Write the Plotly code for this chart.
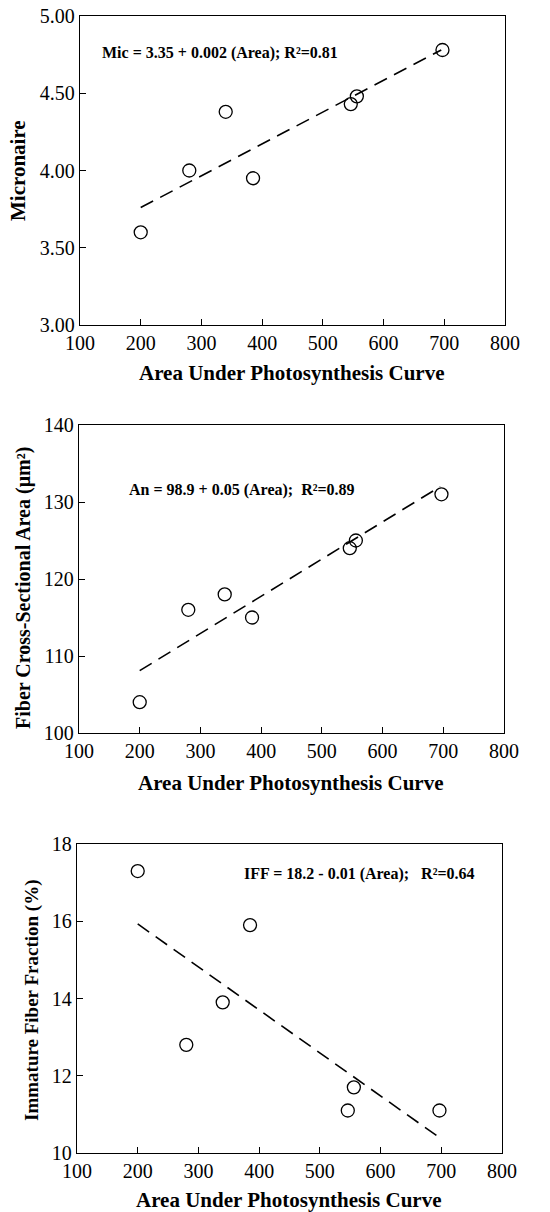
import plotly.graph_objects as go

# ---- data ----
area = [200, 280, 340, 385, 546, 556, 697]
micronaire = [3.60, 4.00, 4.38, 3.95, 4.43, 4.48, 4.78]
cross_area = [104.0, 116.0, 118.0, 115.0, 124.0, 125.0, 131.0]
iff = [17.3, 12.8, 13.9, 15.9, 11.1, 11.7, 11.1]

fit_x = [200, 695]
mic_fit = [3.76, 4.78]
an_fit = [108.1, 132.0]
iff_fit = [15.93, 10.42]

x_ticks = [100, 200, 300, 400, 500, 600, 700, 800]
mic_ticks = [3.00, 3.50, 4.00, 4.50, 5.00]
an_ticks = [100, 110, 120, 130, 140]
iff_ticks = [10, 12, 14, 16, 18]

eq_texts = ["Mic = 3.35 + 0.002 (Area); R²=0.81",
            "An = 98.9 + 0.05 (Area);  R²=0.89",
            "IFF = 18.2 - 0.01 (Area);   R²=0.64"]
y_titles = ["Micronaire", "Fiber Cross-Sectional Area (μm²)", "Immature Fiber Fraction (%)"]
x_title = "Area Under Photosynthesis Curve"

W, H = 550, 1212
FONT = "Liberation Serif"

# panel geometry in screen pixels: (left, right, top, bottom)
panels = [(80, 505, 16, 325), (79, 504, 425, 733), (77, 502, 844, 1153)]
yvals = [micronaire, cross_area, iff]
yfits = [mic_fit, an_fit, iff_fit]
yranges = [[3.0, 5.0], [100, 140], [10, 18]]
yticks = [mic_ticks, an_ticks, iff_ticks]
yfmt = [".2f", "d", "d"]
eq_pos = [(133, 4.76), (179, 131.5), (372, 17.23)]
ytitle_x = [18, 23, 32]
ytitle_y = [171, 588, 1000]
ytitle_size = [21, 20, 19]
xtitle_y = [373, 783, 1200]

fig = go.Figure()
layout = dict(width=W, height=H, margin=dict(l=0, r=0, t=0, b=0, autoexpand=False),
              plot_bgcolor="white", paper_bgcolor="white", showlegend=False,
              font=dict(family=FONT, color="black"))
annotations = []

def px(x):
    return x / W

def py(y):
    return 1 - y / H

for i in range(3):
    l, r, t, b = panels[i]
    sfx = "" if i == 0 else str(i + 1)
    xa, ya = "x" + sfx, "y" + sfx
    fig.add_trace(go.Scatter(x=fit_x, y=yfits[i], mode="lines", xaxis=xa, yaxis=ya,
                             line=dict(color="black", width=1.6, dash="14px,8px"),
                             hoverinfo="skip"))
    fig.add_trace(go.Scatter(x=area, y=yvals[i], mode="markers", xaxis=xa, yaxis=ya,
                             marker=dict(symbol="circle-open", size=13, color="black",
                                         line=dict(width=1.3, color="black"))))
    axcommon = dict(showline=True, mirror=True, linecolor="black", linewidth=1.3,
                    showgrid=False, zeroline=False, ticks="inside", ticklen=6,
                    tickcolor="black", tickwidth=1, automargin=False,
                    tickfont=dict(family=FONT, size=20, color="black"))
    layout["xaxis" + sfx] = dict(axcommon, domain=[px(l), px(r)], range=[100, 800],
                                 tickvals=x_ticks, anchor=ya)
    layout["yaxis" + sfx] = dict(axcommon, domain=[py(b), py(t)], range=yranges[i],
                                 tickvals=yticks[i], tickformat=yfmt[i], anchor=xa)
    ex, ey = eq_pos[i]
    annotations.append(dict(x=ex, y=ey, xref=xa, yref=ya, text=eq_texts[i],
                            showarrow=False, xanchor="left", yanchor="middle",
                            font=dict(family=FONT, size=16, color="black", weight="bold")))
    annotations.append(dict(x=px(ytitle_x[i]), y=py(ytitle_y[i]), xref="paper", yref="paper",
                            text=y_titles[i], textangle=-90, showarrow=False,
                            xanchor="center", yanchor="middle",
                            font=dict(family=FONT, size=ytitle_size[i], color="black", weight="bold")))
    annotations.append(dict(x=px((l + r) / 2 - 1), y=py(xtitle_y[i]), xref="paper", yref="paper",
                            text=x_title, showarrow=False, xanchor="center", yanchor="middle",
                            font=dict(family=FONT, size=21, color="black", weight="bold")))

layout["annotations"] = annotations
fig.update_layout(**layout)
fig.write_html("out.html", config={"displayModeBar": False},
               post_script="document.body.style.margin='0';")
